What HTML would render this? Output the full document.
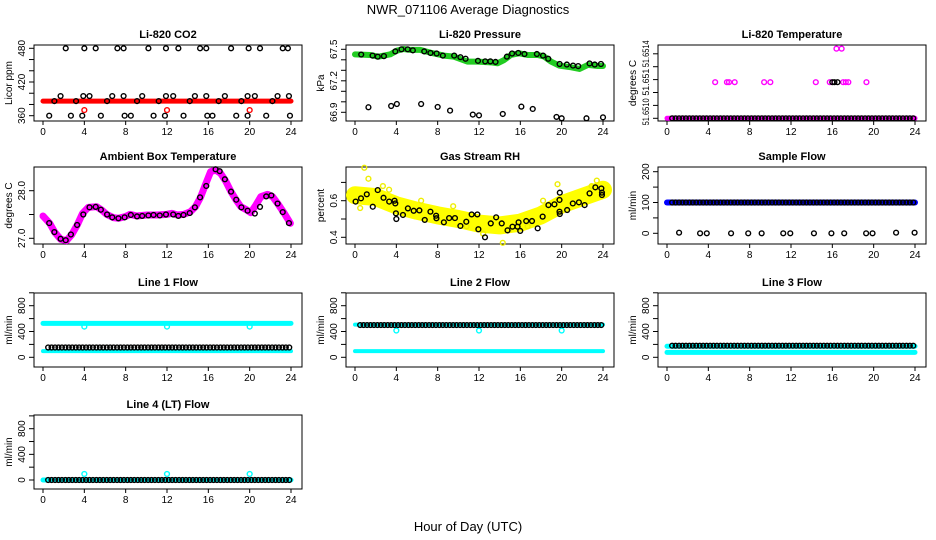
<!DOCTYPE html>
<html><head><meta charset="utf-8">
<style>
html,body{margin:0;padding:0;background:#fff;}
svg{display:block;font-family:"Liberation Sans",Arial,sans-serif;}
</style></head>
<body>
<svg id="chart" width="936" height="540" viewBox="0 0 936 540">
<text x="468" y="14" text-anchor="middle" font-size="13">NWR_071106  Average Diagnostics</text>
<text x="468" y="531" text-anchor="middle" font-size="13">Hour of Day (UTC)</text>
</svg>
<script>
// ---------- data ----------
const xTicks = [0, 4, 8, 12, 16, 20, 24];
const blackHours = [0.5,0.83,1.17,1.5,1.83,2.17,2.5,2.83,3.17,3.5,3.83,4.17,4.5,4.83,5.17,5.5,5.83,6.17,6.5,6.83,7.17,7.5,7.83,8.17,8.5,8.83,9.17,9.5,9.83,10.17,10.5,10.83,11.17,11.5,11.83,12.17,12.5,12.83,13.17,13.5,13.83,14.17,14.5,14.83,15.17,15.5,15.83,16.17,16.5,16.83,17.17,17.5,17.83,18.17,18.5,18.83,19.17,19.5,19.83,20.17,20.5,20.83,21.17,21.5,21.83,22.17,22.5,22.83,23.17,23.5,23.83];
const bandEnds = [0, 24];

// CO2
const co2BandLevel = [386];
const co2RedOutH = [4.0, 12.0, 20.0];
const co2RedOutV = [370, 370, 370];
const co2BlackH = [2.2,4.0,5.1,7.2,7.8,10.2,11.9,13.1,15.2,15.8,18.2,19.9,21.0,23.2,23.7, 1.7,3.9,4.5,6.7,7.8,9.6,11.9,12.6,14.7,15.8,17.6,19.8,20.5,22.7,23.8, 1.1,3.2,6.2,9.1,11.2,14.2,17.0,19.2,22.2, 0.6,2.7,3.8,5.6,7.9,8.5,10.7,11.8,13.6,15.9,16.4,18.7,19.8,21.6,23.9];
const co2BlackV = [480,480,480,480,480,480,480,480,480,480,480,480,480,480,480, 395,395,395,395,395,395,395,395,395,395,395,395,395,395,395, 386,386,386,386,386,386,386,386,386, 360,360,360,360,360,360,360,360,360,360,360,360,360,360,360];

// Pressure
const presBandH = [0,1.46,2.27,3.41,4.05,4.7,5.35,6.32,7.3,8.6,9.57,10.87,11.84,13.14,13.79,14.43,15.08,15.89,16.7,17.68,18.32,18.97,19.78,20.92,21.73,22.54,23.51,24];
const presBandV = [67.452,67.446,67.43,67.452,67.487,67.503,67.494,67.494,67.468,67.44,67.43,67.383,67.383,67.376,67.367,67.398,67.446,67.462,67.446,67.446,67.43,67.383,67.344,67.329,67.313,67.351,67.341,67.341];
const presBlackH = [0.6,1.7,2.2,2.8,3.9,4.5,5.1,5.6,6.7,7.3,7.9,8.5,9.6,10.2,10.7,11.9,12.6,13.1,13.6,14.7,15.2,15.8,16.4,17.6,18.2,18.7,19.8,20.5,21.1,21.6,22.7,23.2,23.8, 1.3,3.5,4.05,6.4,8.0,9.2,11.4,12.0,14.3,16.1,17.2,19.5,20.0,22.4,24.0];
const presBlackV = [67.45,67.44,67.43,67.435,67.48,67.5,67.5,67.49,67.48,67.465,67.46,67.44,67.44,67.425,67.41,67.39,67.385,67.385,67.38,67.43,67.46,67.465,67.455,67.455,67.44,67.41,67.36,67.355,67.345,67.34,67.365,67.355,67.36, 66.948,66.96,66.979,66.979,66.951,66.916,66.878,66.871,66.884,66.954,66.932,66.856,66.843,66.843,66.852];

// Li-820 temperature
const ltBandLevel = [51.6510];
const ltBlackLevel = [51.6510];
const ltMidH = [4.66,5.8,6.0,6.55,9.4,10.0,14.4,15.75,17.05,17.3,17.55,19.3];
const ltMidV = [51.65128,51.65128,51.65128,51.65128,51.65128,51.65128,51.65128,51.65128,51.65128,51.65128,51.65128,51.65128];
const ltBlackMidH = [16.0, 16.2, 16.5];
const ltBlackMidV = [51.65128, 51.65128, 51.65128];
const ltTopH = [16.4, 16.9];
const ltTopV = [51.65154, 51.65154];
const ltLabelText = ['51.6510', '51.651', '51.6514'];

// Ambient box temperature
const ambH = [0,0.65,1.14,1.72,2.27,2.76,3.31,3.83,4.38,5.19,5.68,6.16,6.81,7.3,7.95,8.43,9.08,10.05,11.03,12.0,12.49,12.97,13.62,14.27,14.76,15.24,15.73,16.22,16.7,17.19,17.68,18.16,18.65,19.14,19.62,20.11,20.6,21.08,21.73,22.22,22.7,23.35,23.94];
const ambV = [27.469,27.315,27.126,26.979,26.951,27.07,27.28,27.524,27.65,27.664,27.594,27.503,27.434,27.42,27.455,27.503,27.469,27.49,27.49,27.503,27.524,27.49,27.503,27.559,27.664,27.86,28.133,28.399,28.434,28.364,28.203,27.993,27.818,27.664,27.608,27.538,27.699,27.874,27.923,27.874,27.734,27.524,27.315];
const ambBlackH = [0.6,1.1,1.7,2.2,2.7,3.3,3.9,4.5,5.1,5.6,6.2,6.7,7.3,7.9,8.5,9.1,9.6,10.2,10.7,11.3,11.9,12.6,13.1,13.6,14.2,14.7,15.2,15.8,16.7,17.1,17.6,18.2,18.7,19.2,19.8,20.5,21.0,21.6,22.1,22.7,23.2,23.8];
const ambBlackV = [27.32,27.13,26.99,26.96,27.08,27.28,27.5,27.65,27.66,27.6,27.5,27.44,27.42,27.44,27.49,27.46,27.47,27.48,27.49,27.48,27.5,27.5,27.47,27.49,27.53,27.65,27.86,28.1,28.45,28.41,28.24,27.98,27.81,27.65,27.58,27.52,27.66,27.88,27.9,27.73,27.55,27.32];

// Gas stream RH
const rhBandH = [0,2,4,6,8,10,12,14,16,18,20,22,24];
const rhBandV = [0.63,0.62,0.575,0.545,0.52,0.5,0.475,0.465,0.48,0.52,0.58,0.62,0.66];
const rhYellowH = [0.9,1.3,2.7,0.5,6.4,9.5,12.4,14.3,14.9,18.2,19.6,22.9,23.4,3.3,10.8,16.7];
const rhYellowV = [0.78,0.72,0.68,0.56,0.6,0.57,0.42,0.37,0.44,0.6,0.69,0.68,0.71,0.66,0.46,0.46];
const rhBlackH = [0.06,0.58,1.14,1.72,2.2,2.76,3.31,3.83,3.9,3.96,4.0,4.64,5.12,5.68,6.23,6.75,7.3,7.85,7.88,8.6,9.11,9.67,10.2,10.77,11.29,11.84,11.94,12.58,13.14,13.66,14.2,14.76,15.24,15.73,15.83,15.99,16.57,17.13,17.68,18.16,18.72,19.3,19.79,19.82,19.79,19.82,20.53,21.08,21.67,22.22,22.7,23.26,23.84,23.9,23.9];
const rhBlackV = [0.595,0.613,0.635,0.567,0.658,0.616,0.595,0.6,0.585,0.531,0.5,0.522,0.558,0.545,0.547,0.495,0.54,0.518,0.504,0.482,0.505,0.505,0.462,0.485,0.525,0.525,0.444,0.4,0.476,0.509,0.476,0.438,0.458,0.458,0.482,0.435,0.489,0.489,0.449,0.513,0.576,0.58,0.54,0.527,0.604,0.644,0.549,0.585,0.591,0.576,0.64,0.673,0.667,0.631,0.644];

// Sample flow
const sfBandLevel = [100];
const sfBlackLevel = [100];
const sfLowH = [1.17,3.2,3.85,6.2,7.86,9.16,11.25,11.93,14.22,15.91,17.15,19.27,19.89,22.17,23.96];
const sfLowV = [2,0,0,0,0,0,0,0,0,0,0,0,0,2,2];

// Line flows: [cyan high, cyan low, black]
const line1Levels = [526, 96, 152];
const line2Levels = [506, 96, 500];
const line3Levels = [172, 76, 180];
const line4Levels = [0, 0, 0];
const outlierHours = [4, 12, 20];
const line1OutV = [476, 476, 476];
const line2OutV = [415, 415, 415];
const line4OutV = [94, 94, 94];

// ---------- drawing ----------
const svg = document.getElementById('chart');
const NS = 'http://www.w3.org/2000/svg';
const rowTop = [45, 167, 293, 415];
const rowBot = [121, 244, 367, 489];

function mk(tag, attrs, name, parent) {
  const el = document.createElementNS(NS, tag);
  for (const k in attrs) el.setAttribute(k, attrs[k]);
  
  
  (parent || svg).appendChild(el);
  return el;
}

function panel(col, row, title, ylab, v0, p0, v1, p1, ticks, labels, fmt, labelText) {
  const L = 34 + 312 * col, R = L + 268, T = rowTop[row], B = rowBot[row];
  const g = mk('g', {}, 'panel-' + title.toLowerCase().replace(/[^a-z0-9]+/g, '-'));
  const p = {
    g, L, R, T, B,
    x: h => L + 9 + h * 248 / 24,
    y: v => p0 + (v - v0) * (p1 - p0) / (v1 - v0)
  };
  mk('text', {x: (L + R) / 2, y: T - 7, 'text-anchor': 'middle', 'font-size': 11, 'font-weight': 'bold'}, 'panel-title', g).textContent = title;
  mk('rect', {x: L, y: T, width: R - L, height: B - T, fill: 'none', stroke: '#000', 'stroke-width': 1}, 'plot-frame', g);
  xTicks.forEach(t => {
    const xx = p.x(t);
    mk('line', {x1: xx, x2: xx, y1: B, y2: B + 4, stroke: '#000'}, 'x-tick', g);
    mk('text', {x: xx, y: B + 14, 'text-anchor': 'middle', 'font-size': 10}, 'x-tick-label', g).textContent = t;
  });
  ticks.forEach(t => {
    const yy = p.y(t);
    mk('line', {x1: L - 5, x2: L, y1: yy, y2: yy, stroke: '#000'}, 'y-tick', g);
  });
  labels.forEach((t, i) => {
    const yy = p.y(t);
    const attrs = {x: 0, y: 0, 'text-anchor': 'middle', 'font-size': 10, transform: 'translate(' + (L - 9) + ',' + yy + ') rotate(-90)'};
    if (labelText) { attrs['font-size'] = 9; attrs['textLength'] = 27; attrs['lengthAdjust'] = 'spacingAndGlyphs'; }
    const tx = mk('text', attrs, 'y-tick-label', g);
    tx.textContent = labelText ? labelText[i] : (fmt ? fmt(t) : t);
  });
  const yl = mk('text', {x: 0, y: 0, 'text-anchor': 'middle', 'font-size': 10, transform: 'translate(' + (L - 22) + ',' + ((T + B) / 2) + ') rotate(-90)'}, 'y-axis-title', g);
  yl.textContent = ylab;
  return p;
}

function band(p, hs, vs, color, w, name) {
  const pts = hs.map((h, i) => p.x(h) + ',' + p.y(vs[i])).join(' ');
  mk('polyline', {points: pts, fill: 'none', stroke: color, 'stroke-width': w, 'stroke-linejoin': 'round', 'stroke-linecap': 'round'}, name, p.g);
}
function pts(p, hs, vs, color, name, r, sw) {
  hs.forEach((h, i) => {
    mk('circle', {cx: p.x(h), cy: p.y(vs[i]), r: r || 2.4, fill: 'none', stroke: color, 'stroke-width': sw || 1.4}, name, p.g);
  });
}
function levelBand(p, level, color, w, name) {
  band(p, bandEnds, bandEnds.map(() => level), color, w, name);
}
function levelPts(p, level, color, name) {
  pts(p, blackHours, blackHours.map(() => level), color, name);
}

// Row 1
let p = panel(0, 0, 'Li-820 CO2', 'Licor ppm', 360, 115.7, 480, 48.3, [360,380,400,420,440,460,480], [360,420,480]);
levelBand(p, co2BandLevel[0], '#ff0000', 5, 'co2-band');
pts(p, co2RedOutH, co2RedOutV, '#ff0000', 'co2-red-point');
pts(p, co2BlackH, co2BlackV, '#000', 'co2-black-point');

p = panel(1, 0, 'Li-820 Pressure', 'kPa', 66.9, 112.3, 67.5, 49.3, [66.9,67.0,67.1,67.2,67.3,67.4,67.5], [66.9,67.2,67.5], v => v.toFixed(1));
band(p, presBandH, presBandV, '#22cc22', 6, 'pressure-band');
pts(p, presBlackH, presBlackV, '#000', 'pressure-black-point');

p = panel(2, 0, 'Li-820 Temperature', 'degrees C', 51.6510, 118.3, 51.6514, 66.7, [51.6510,51.6511,51.6512,51.6513,51.6514,51.6515], [51.65105,51.65128,51.65150], null, ltLabelText);
levelBand(p, ltBandLevel[0], '#ff00ff', 5, 'li-temp-band');
pts(p, ltMidH, ltMidV, '#ff00ff', 'li-temp-magenta-point');
pts(p, ltTopH, ltTopV, '#ff00ff', 'li-temp-magenta-point');
levelPts(p, ltBlackLevel[0], '#000', 'li-temp-black-point');
pts(p, ltBlackMidH, ltBlackMidV, '#000', 'li-temp-black-point');

// Row 2
p = panel(0, 1, 'Ambient Box Temperature', 'degrees C', 27, 238.3, 28, 190.7, [27,27.5,28], [27,28], v => v.toFixed(1));
band(p, ambH, ambV, '#ff00ff', 7, 'ambient-band');
pts(p, ambBlackH, ambBlackV, '#000', 'ambient-black-point');

p = panel(1, 1, 'Gas Stream RH', 'percent', 0.4, 237.3, 0.6, 200.7, [0.4,0.5,0.6,0.7], [0.4,0.6], v => v.toFixed(1));
band(p, rhBandH, rhBandV, '#ffff00', 18, 'rh-band');
pts(p, rhYellowH, rhYellowV, '#eeee00', 'rh-yellow-point');
pts(p, rhBlackH, rhBlackV, '#000', 'rh-black-point');

p = panel(2, 1, 'Sample Flow', 'ml/min', 0, 233.3, 200, 171.7, [0,50,100,150,200], [0,100,200]);
levelBand(p, sfBandLevel[0], '#0000ff', 6, 'sample-flow-band');
levelPts(p, sfBlackLevel[0], '#000', 'sample-flow-black-point');
pts(p, sfLowH, sfLowV, '#000', 'sample-flow-low-point');

// Row 3
const flowTicks = [0,200,400,600,800,1000];
const flowLabels = [0,400,800];
p = panel(0, 2, 'Line 1 Flow', 'ml/min', 0, 357.3, 800, 305.7, flowTicks, flowLabels);
levelBand(p, line1Levels[0], '#00ffff', 5, 'line1-cyan-high');
levelBand(p, line1Levels[1], '#00ffff', 4, 'line1-cyan-low');
pts(p, outlierHours, line1OutV, '#00ffff', 'line1-outlier');
levelPts(p, line1Levels[2], '#000', 'line1-black-point');

p = panel(1, 2, 'Line 2 Flow', 'ml/min', 0, 357.3, 800, 305.7, flowTicks, flowLabels);
levelBand(p, line2Levels[0], '#00ffff', 4, 'line2-cyan-high');
levelBand(p, line2Levels[1], '#00ffff', 4, 'line2-cyan-low');
pts(p, outlierHours, line2OutV, '#00ffff', 'line2-outlier');
levelPts(p, line2Levels[2], '#000', 'line2-black-point');

p = panel(2, 2, 'Line 3 Flow', 'ml/min', 0, 357.3, 800, 305.7, flowTicks, flowLabels);
levelBand(p, line3Levels[0], '#00ffff', 5, 'line3-cyan-high');
levelBand(p, line3Levels[1], '#00ffff', 5, 'line3-cyan-low');
levelPts(p, line3Levels[2], '#000', 'line3-black-point');

// Row 4
p = panel(0, 3, 'Line 4 (LT) Flow', 'ml/min', 0, 480, 800, 428.7, flowTicks, flowLabels);
levelBand(p, line4Levels[0], '#00ffff', 5, 'line4-cyan-band');
pts(p, outlierHours, line4OutV, '#00ffff', 'line4-outlier');
levelPts(p, line4Levels[2], '#000', 'line4-black-point');
</script>
</body></html>
